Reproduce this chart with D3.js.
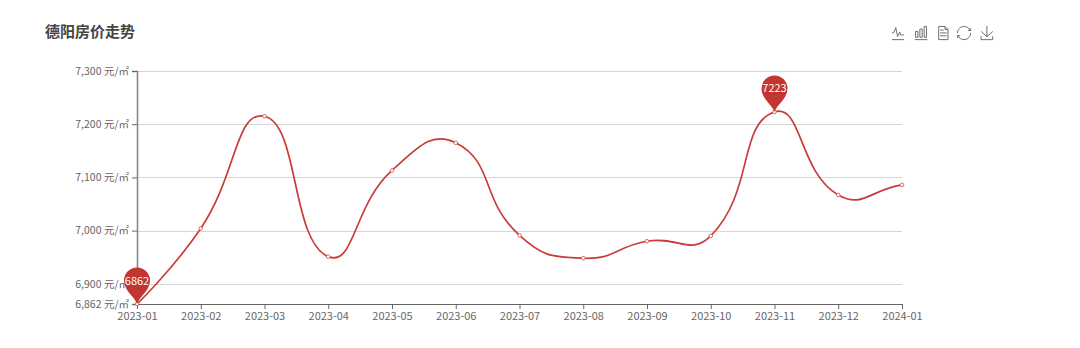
<!DOCTYPE html>
<html lang="zh-CN">
<head>
<meta charset="UTF-8">
<title>德阳房价走势</title>
<style>
    html, body { margin: 0; padding: 0; background: #fff; }
    svg { display: block; }
    text { font-family: "Noto Sans CJK SC", "Noto Sans", sans-serif; }
</style>
</head>
<body>
<script src="https://d3js.org/d3.v7.min.js"></script>
<script>
var months = ["2023-01", "2023-02", "2023-03", "2023-04", "2023-05", "2023-06", "2023-07",
    "2023-08", "2023-09", "2023-10", "2023-11", "2023-12", "2024-01"];
var prices = [6862, 7004, 7215, 6951, 7113, 7165, 6991, 6948, 6980, 6990, 7223, 7067, 7086];
var yTicks = [6862, 6900, 7000, 7100, 7200, 7300];
var titleText = "德阳房价走势";
var unit = " 元/㎡";

var width = 1080, height = 348;
var plotLeft = 137, plotRight = 902, plotTop = 71, plotBottom = 304;
var red = "#c23531";

var svg = d3.select("body").append("svg")
    .attr("width", width)
    .attr("height", height);

var x = d3.scalePoint().domain(months).range([plotLeft, plotRight]);
var y = d3.scaleLinear().domain([6862, 7300]).range([plotBottom, plotTop]);

// title
svg.append("text")
    .attr("x", 45)
    .attr("y", 37)
    .attr("font-size", "15px")
    .attr("font-weight", "bold")
    .attr("fill", "#464646")
    .text(titleText);

// grid
svg.selectAll(".grid")
    .data(yTicks.slice(1))
    .enter()
    .append("line")
    .attr("x1", plotLeft)
    .attr("x2", plotRight)
    .attr("y1", function (d) { return Math.round(y(d)) + 0.5; })
    .attr("y2", function (d) { return Math.round(y(d)) + 0.5; })
    .attr("stroke", "#d6d6d6");

// axes
var axisY = d3.axisLeft(y)
    .tickValues(yTicks)
    .tickSize(5)
    .tickPadding(3)
    .tickFormat(function (d) { return d3.format(",")(d) + unit; });
var axisX = d3.axisBottom(x).tickSize(5).tickPadding(3);

var gy = svg.append("g").attr("transform", "translate(" + plotLeft + ",0)").call(axisY);
var gx = svg.append("g").attr("transform", "translate(0," + plotBottom + ")").call(axisX);

[gy, gx].forEach(function (g) {
    g.selectAll("line").attr("stroke", "#666");
    g.attr("font-family", null);
});
gy.selectAll("text").attr("font-size", "10.5px").attr("fill", "#666");
gx.selectAll("text").attr("font-size", "11px").attr("fill", "#666");
gy.select(".domain").attr("stroke", "#888").attr("stroke-width", 1.6);
gx.select(".domain").attr("stroke", "#666");

// same smoothing as the original line: control points scaled by segment length
function smoothPath(pts, smooth) {
    var p = d3.path();
    var cp0x = pts[0][0], cp0y = pts[0][1];
    p.moveTo(pts[0][0], pts[0][1]);
    for (var i = 1; i < pts.length; i++) {
        var cur = pts[i];
        var prev = pts[i - 1];
        var next = pts[i + 1] || cur;
        var vx = next[0] - prev[0], vy = next[1] - prev[1];
        var lenPrev = Math.hypot(cur[0] - prev[0], cur[1] - prev[1]);
        var lenNext = Math.hypot(next[0] - cur[0], next[1] - cur[1]);
        var ratio = lenNext / (lenNext + lenPrev);
        p.bezierCurveTo(cp0x, cp0y,
            cur[0] - vx * smooth * (1 - ratio), cur[1] - vy * smooth * (1 - ratio),
            cur[0], cur[1]);
        cp0x = cur[0] + vx * smooth * ratio;
        cp0y = cur[1] + vy * smooth * ratio;
    }
    return p.toString();
}

var points = prices.map(function (d, i) { return [x(months[i]), y(d)]; });

svg.append("path")
    .attr("d", smoothPath(points, 0.5))
    .attr("fill", "none")
    .attr("stroke", "#c83c3a")
    .attr("stroke-width", 1.7);

svg.selectAll(".dot")
    .data(prices)
    .enter()
    .append("circle")
    .attr("cx", function (d, i) { return x(months[i]); })
    .attr("cy", function (d) { return y(d); })
    .attr("r", 1.8)
    .attr("fill", "#fff")
    .attr("stroke", "#cf5a58")
    .attr("stroke-width", 0.9);

// min / max pins
var pinValues = [d3.min(prices), d3.max(prices)];
var pins = svg.selectAll(".pin")
    .data(pinValues)
    .enter()
    .append("g")
    .attr("transform", function (d) {
        return "translate(" + x(months[prices.indexOf(d)]) + "," + y(d) + ")";
    });

pins.append("path")
    .attr("d", "M0,0C-2,-7 -13,-13 -13,-23.5A13,13 0 1 1 13,-23.5C13,-13 2,-7 0,0Z")
    .attr("fill", red);

pins.append("text")
    .attr("y", -19.5)
    .attr("text-anchor", "middle")
    .attr("font-size", "11px")
    .attr("fill", "#fff")
    .text(function (d) { return d; });

// toolbox icons
var iconPaths = [
    "M4.1,28.9h7.1l9.3-22l7.4,38l9.7-19.7l3,12.8h14.9M4.1,58h51.4",
    "M6.7,22.9h10V48h-10V22.9zM24.9,13h10v35h-10V13zM43.2,2h10v46h-10V2zM3.1,58h53.7",
    "M17.5,17.3H33 M45.4,29.5h-28 M11.5,2v56H51V14.8L38.4,2H11.5z M38.4,2.2v12.7H51 M45.4,41.7h-28",
    "M47,18.9h9.8V8.7 M56.3,20.1C52.1,9,40.5,0.6,26.8,2.1C12.6,3.7,1.6,16.2,2.1,30.6 M13,41.1H3.1v10.2 M3.7,39.9c4.2,11.1,15.8,19.5,29.5,18c14.2-1.6,25.2-14.1,24.7-28.5",
    "M4.7,22.9L29.3,45.5L54.7,23.4M4.6,43.6L4.6,58L53.8,58L53.8,43.6M29.2,45.1L29.2,0"
];
var iconX = [891, 914, 936, 957, 980];

svg.selectAll(".icon")
    .data(iconPaths)
    .enter()
    .append("path")
    .attr("d", function (d) { return d; })
    .attr("transform", function (d, i) { return "translate(" + iconX[i] + ",26) scale(0.235)"; })
    .attr("fill", "none")
    .attr("stroke", "#666")
    .attr("stroke-width", 4);
</script>
</body>
</html>
